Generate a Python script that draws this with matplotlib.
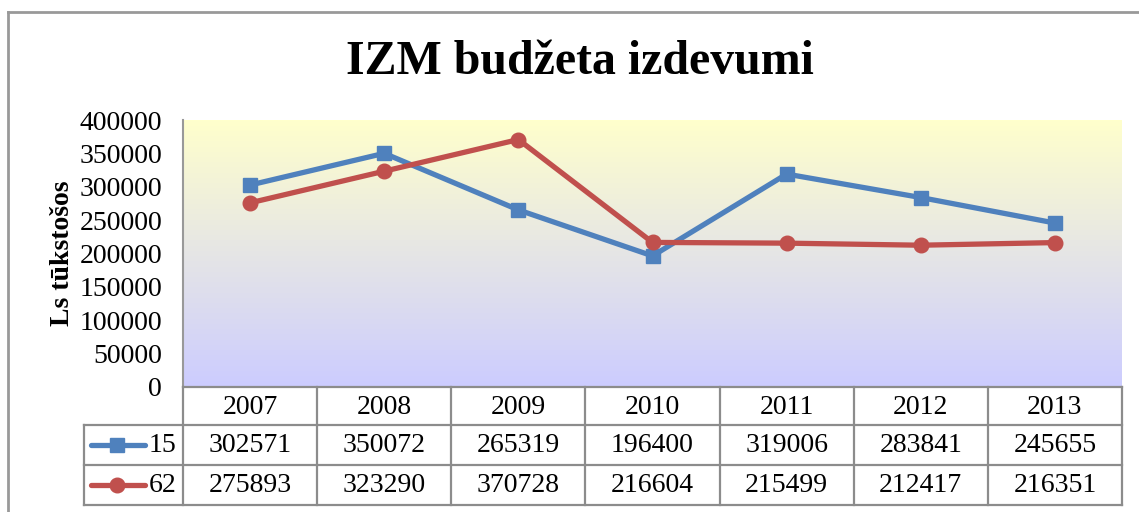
import numpy as np
import matplotlib
matplotlib.use("Agg")
import matplotlib.pyplot as plt
from matplotlib.colors import LinearSegmentedColormap

plt.rcParams['font.family'] = ['Liberation Serif', 'DejaVu Serif']

years = ["2007", "2008", "2009", "2010", "2011", "2012", "2013"]
s15 = [302571, 350072, 265319, 196400, 319006, 283841, 245655]
s62 = [275893, 323290, 370728, 216604, 215499, 212417, 216351]
names = ["15", "62"]
colors = ["#4F81BD", "#C0504D"]
markers = ["s", "o"]
yticks = [0, 50000, 100000, 150000, 200000, 250000, 300000, 350000, 400000]

W, H = 1139, 512
fs = 20
fig = plt.figure(figsize=(W / 100, H / 100), dpi=100)

# plot area in pixels
L, R, T, B = 183, 1122, 120, 387
ax = fig.add_axes([L / W, 1 - B / H, (R - L) / W, (B - T) / H])

# yellow -> lavender background gradient
cmap = LinearSegmentedColormap.from_list("bg", ["#CCCCFF", "#FFFFCC"])
grad = np.linspace(0, 1, 256).reshape(-1, 1)
ax.imshow(grad, cmap=cmap, origin="lower", aspect="auto",
          extent=[-0.5, len(years) - 0.5, 0, 400000], zorder=0)

x = np.arange(len(years))
for vals, c, m in zip([s15, s62], colors, markers):
    ax.plot(x, vals, color=c, lw=3.8, marker=m, ms=10.5, zorder=3)

ax.set_xlim(-0.5, len(years) - 0.5)
ax.set_ylim(0, 400000)
ax.set_yticks(yticks)
ax.set_yticklabels([str(v) for v in yticks], fontsize=fs)
ax.set_xticks([])
ax.tick_params(axis="y", length=0, pad=15)
for s in ["top", "right", "bottom"]:
    ax.spines[s].set_visible(False)
ax.spines["left"].set_color("#999999")
ax.spines["left"].set_linewidth(1.5)
ax.set_ylabel("Ls tūkstošos", fontsize=20, fontweight="bold")
ax.yaxis.set_label_coords(-0.115, 0.5)

fig.text(580 / W, 1 - 62 / H, "IZM budžeta izdevumi", ha="center", va="center",
         fontsize=34.5, fontweight="bold")

# overlay in pixel coords for the data table and outer border
ov = fig.add_axes([0, 0, 1, 1])
ov.set_xlim(0, W)
ov.set_ylim(H, 0)
ov.axis("off")
ov.patch.set_alpha(0)

gc = "#8C8C8C"
lw = 1.6
# outer chart border
ov.plot([8, 8], [12, H], color="#999999", lw=2)
ov.plot([8, W], [12, 12], color="#999999", lw=2)

cw = (R - L) / len(years)
rows = [B, 425, 465, 505]
kx = 84
# horizontal lines
ov.plot([L, R], [rows[0], rows[0]], color=gc, lw=lw)
for yy in rows[1:]:
    ov.plot([kx, R], [yy, yy], color=gc, lw=lw)
# vertical lines
for i in range(len(years) + 1):
    ov.plot([L + i * cw] * 2, [rows[0], rows[3]], color=gc, lw=lw)
ov.plot([kx, kx], [rows[1], rows[3]], color=gc, lw=lw)

for i, yr in enumerate(years):
    cx = L + (i + 0.5) * cw
    ov.text(cx, (rows[0] + rows[1]) / 2 + 1, yr, ha="center", va="center", fontsize=fs)
    for r, vals in enumerate([s15, s62]):
        ov.text(cx, (rows[r + 1] + rows[r + 2]) / 2 + 1, str(vals[i]),
                ha="center", va="center", fontsize=fs)

for r, (nm, c, m) in enumerate(zip(names, colors, markers)):
    cy = (rows[r + 1] + rows[r + 2]) / 2
    ov.plot([91, 145], [cy, cy], color=c, lw=3.8, solid_capstyle="round")
    ov.plot([117], [cy], color=c, marker=m, ms=10.5)
    ov.text(176, cy + 1, nm, ha="right", va="center", fontsize=fs)

fig.savefig("out.png", dpi=100)
